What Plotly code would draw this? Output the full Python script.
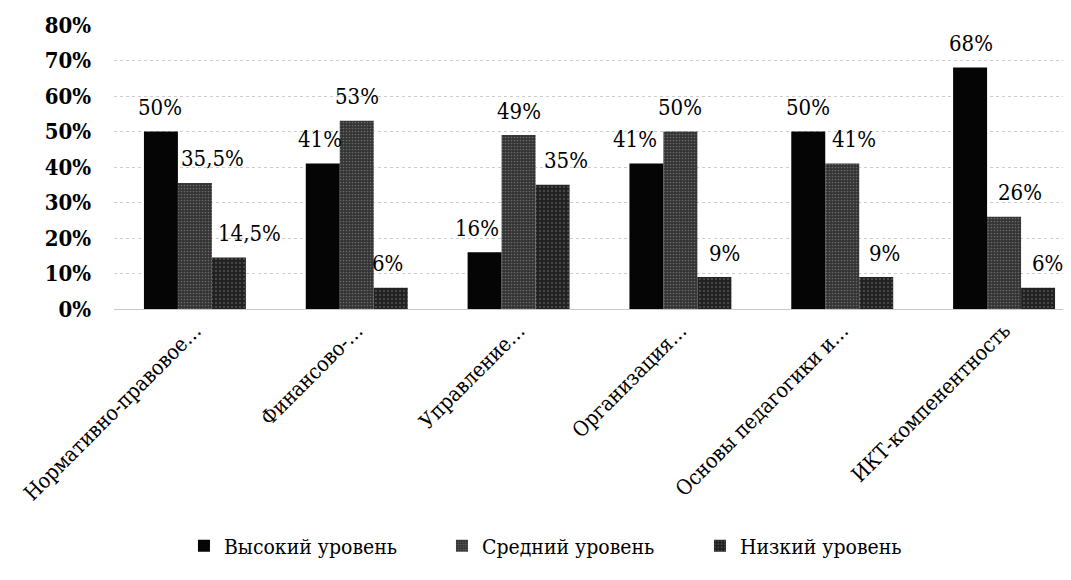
import plotly.graph_objects as go

categories = ["Нормативно-правовое…", "Финансово-…", "Управление…",
              "Организация…", "Основы педагогики и…", "ИКТ-компенентность"]
series_names = ["Высокий уровень", "Средний уровень", "Низкий уровень"]
high = [50, 41, 16, 41, 50, 68]
mid = [35.5, 53, 49, 50, 41, 26]
low = [14.5, 6, 35, 9, 9, 6]
high_labels = ["50%", "41%", "16%", "41%", "50%", "68%"]
mid_labels = ["35,5%", "53%", "49%", "50%", "41%", "26%"]
low_labels = ["14,5%", "6%", "35%", "9%", "9%", "6%"]
y_ticks = [0, 10, 20, 30, 40, 50, 60, 70, 80]
y_tick_text = ["0%", "10%", "20%", "30%", "40%", "50%", "60%", "70%", "80%"]

# label horizontal nudges (px), styling only
high_dx = [-35, -37, -42, -45, -34, -33]
mid_dx = [18, 0, 0, 0, 12, 16]
low_dx = [55, 31, 47, 44, 42, 43]

FONT = "DejaVu Serif Condensed, DejaVu Serif"

fig = go.Figure()
fig.add_trace(go.Bar(x=categories, y=high, name=series_names[0],
                     marker=dict(color="#050505", line=dict(width=0))))
fig.add_trace(go.Bar(x=categories, y=mid, name=series_names[1],
                     marker=dict(color="#3a3a3a", line=dict(width=0),
                                 pattern=dict(shape=".", bgcolor="#333333",
                                              fgcolor="#a0a0a0", size=3, solidity=0.25))))
fig.add_trace(go.Bar(x=categories, y=low, name=series_names[2],
                     marker=dict(color="#2a2a2a", line=dict(width=0),
                                 pattern=dict(shape=".", bgcolor="#222222",
                                              fgcolor="#858585", size=4, solidity=0.2))))

for vals, labs, dxs in [(high, high_labels, high_dx), (mid, mid_labels, mid_dx), (low, low_labels, low_dx)]:
    for c, v, t, dx in zip(categories, vals, labs, dxs):
        fig.add_annotation(x=c, y=v, text=t, showarrow=False, xshift=dx, yshift=24,
                           yanchor="middle", xanchor="center",
                           font=dict(family=FONT, size=22, color="#000"))

fig.update_layout(
    width=1063, height=572,
    margin=dict(l=106, r=3, t=17, b=271, autoexpand=False),
    paper_bgcolor="white", plot_bgcolor="white",
    barmode="group", bargap=0.37, bargroupgap=0,
    font=dict(family=FONT, size=20, color="#000"),
    legend=dict(orientation="h", x=0.479, xanchor="center", y=-0.835, yanchor="middle",
                font=dict(family=FONT, size=21, color="#000"),
                itemwidth=30, traceorder="normal",
                entrywidth=213, entrywidthmode="pixels"),
    showlegend=True,
)
fig.update_xaxes(tickangle=-45, tickfont=dict(family=FONT, size=21, color="#000"),
                 showline=True, linecolor="#c8c8c8", linewidth=1, ticks="",
                 range=[-0.5, 5.395], automargin=False)
fig.update_yaxes(range=[0, 80], tickvals=y_ticks,
                 ticktext=["<b>%s</b>" % t for t in y_tick_text],
                 tickfont=dict(family=FONT, size=22, color="#000"),
                 showgrid=True, gridcolor="#cccccc", gridwidth=1, griddash="dot",
                 zeroline=False, ticklabelstandoff=22, automargin=False)

fig.write_html("out.html")
